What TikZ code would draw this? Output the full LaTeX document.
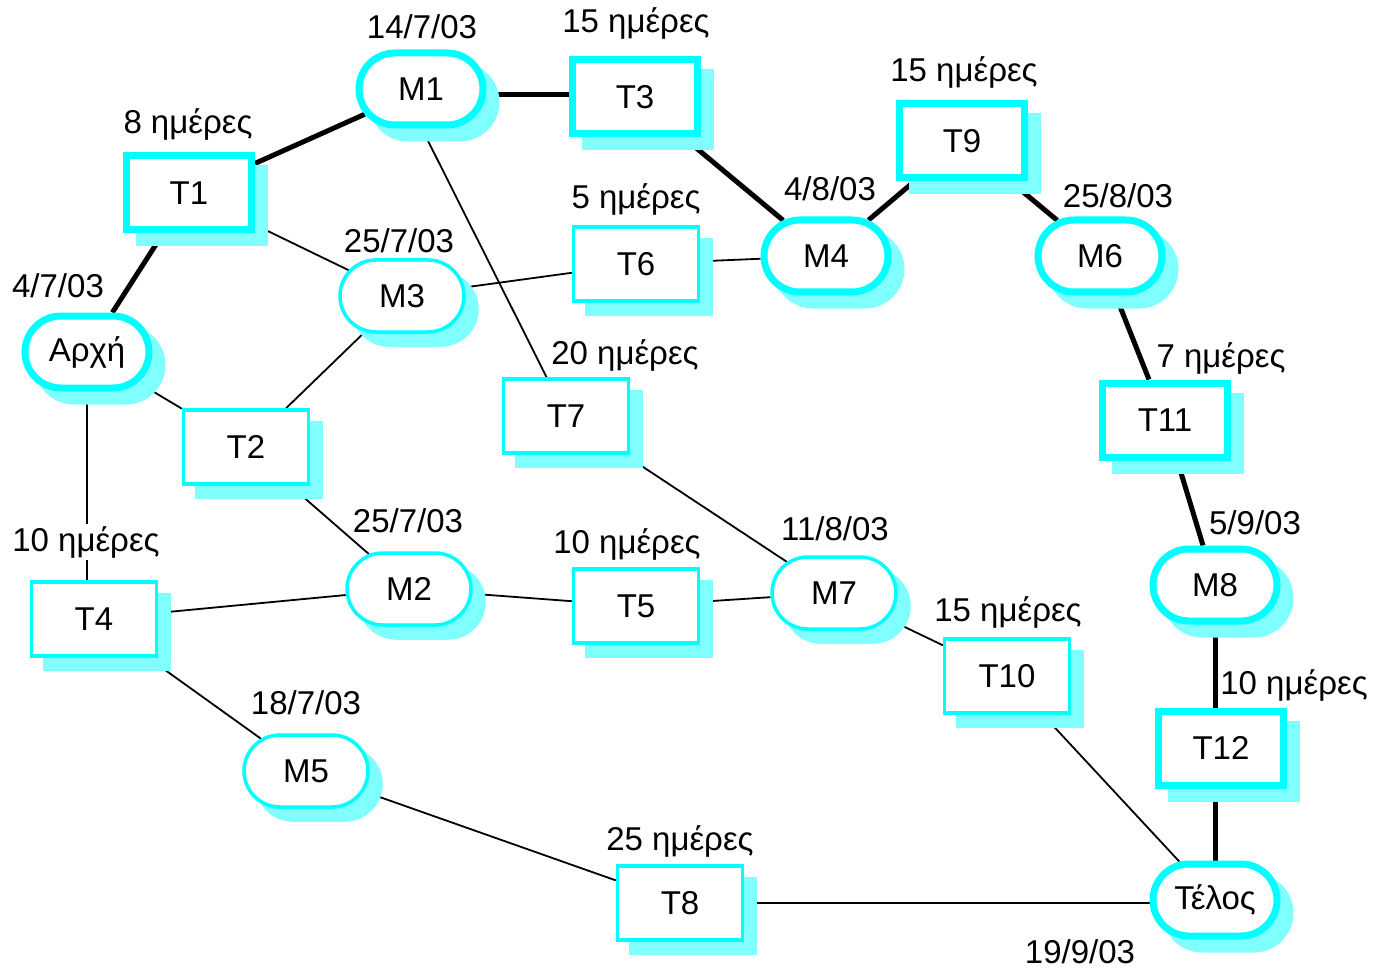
\documentclass[tikz,border=0pt]{standalone}
\usepackage{fontspec}
\setmainfont{Liberation Sans}
\usetikzlibrary{shapes.misc,shadows,backgrounds,calc}
\definecolor{cy}{RGB}{0,255,255}
\definecolor{shc}{RGB}{128,255,255}
\tikzset{
 base/.style={draw=cy, fill=white, font=\fontsize{33}{40}\selectfont, inner sep=0pt,
   drop shadow={opacity=1, fill=shc, draw=shc, shadow xshift=13pt, shadow yshift=-13pt}},
 milestone/.style={base, rounded rectangle, minimum width=124pt, minimum height=72pt},
 task/.style={base, rectangle, minimum width=125pt, minimum height=74pt},
 crit/.style={line width=7pt},
 norm/.style={line width=3.5pt},
 critedge/.style={line width=5pt},
 thinedge/.style={line width=1.8pt},
 lbl/.style={font=\fontsize{33}{40}\selectfont, anchor=base, inner sep=0pt},
}
\begin{document}
\begin{tikzpicture}[x=1pt,y=-1pt]
\useasboundingbox (0,0) rectangle (1373,968);
% milestones
\node[milestone,crit] (Arche) at (87,352) {Αρχή};
\node[milestone,crit] (M1) at (421,89) {M1};
\node[milestone,norm] (M3) at (402,296) {M3};
\node[milestone,crit] (M4) at (826,256) {M4};
\node[milestone,crit] (M6) at (1100,256) {M6};
\node[milestone,norm] (M2) at (409,589) {M2};
\node[milestone,norm] (M7) at (834,593) {M7};
\node[milestone,norm] (M5) at (306,771) {M5};
\node[milestone,crit] (M8) at (1215,585) {M8};
\node[milestone,crit] (Telos) at (1215,900) {Τέλος};
% tasks
\node[task,crit] (T1) at (189,193) {T1};
\node[task,norm] (T2) at (246,447) {T2};
\node[task,crit] (T3) at (635,97) {T3};
\node[task,norm] (T4) at (94,619) {T4};
\node[task,norm] (T5) at (636,606) {T5};
\node[task,norm] (T6) at (636,264) {T6};
\node[task,norm] (T7) at (566,416) {T7};
\node[task,norm] (T8) at (680,903) {T8};
\node[task,crit] (T9) at (962,141) {T9};
\node[task,norm] (T10) at (1007,676) {T10};
\node[task,crit] (T11) at (1165,420) {T11};
\node[task,crit] (T12) at (1221,748) {T12};
% labels
\node[lbl] (l1) at (422,39) {14/7/03};
\node[lbl] (l2) at (636,33) {15 ημέρες};
\node[lbl] (l3) at (188,134) {8 ημέρες};
\node[lbl] (l4) at (58,298) {4/7/03};
\node[lbl] (l5) at (399,253) {25/7/03};
\node[lbl] (l6) at (636,209) {5 ημέρες};
\node[lbl] (l7) at (830,201) {4/8/03};
\node[lbl] (l8) at (964,82) {15 ημέρες};
\node[lbl] (l9) at (1118,208) {25/8/03};
\node[lbl] (l10) at (625,364) {20 ημέρες};
\node[lbl] (l11) at (1221,367) {7 ημέρες};
\node[lbl,fill=white,inner sep=2pt] (l12) at (86,551) {10 ημέρες};
\node[lbl] (l13) at (408,532) {25/7/03};
\node[lbl] (l14) at (627,553) {10 ημέρες};
\node[lbl] (l15) at (835,540) {11/8/03};
\node[lbl] (l16) at (1255,534) {5/9/03};
\node[lbl] (l17) at (1008,621) {15 ημέρες};
\node[lbl] (l18) at (306,714) {18/7/03};
\node[lbl] (l19) at (1294,694) {10 ημέρες};
\node[lbl] (l20) at (680,850) {25 ημέρες};
\node[lbl] (l21) at (1080,963) {19/9/03};
% connectors
\begin{scope}[on background layer]
\draw[critedge] (Arche) -- (T1);
\draw[critedge] (T1) -- (M1);
\draw[critedge] (M1.east |- 0,95) -- (T3.west |- 0,95);
\draw[critedge] (T3) -- (M4);
\draw[critedge] (M4) -- (T9);
\draw[critedge] (T9) -- (M6);
\draw[critedge] (M6) -- (T11);
\draw[critedge] (T11) -- (M8);
\draw[critedge] (M8) -- (M8 |- T12);
\draw[critedge] (M8 |- T12) -- (Telos);
\draw[thinedge] (T1) -- (M3);
\draw[thinedge] ($(M1)+(-19,0)$) -- (T7);
\draw[thinedge] (M3) -- (T6);
\draw[thinedge] (T6) -- (M4);
\draw[thinedge] (Arche) -- (T2);
\draw[thinedge] (T2) -- (M3);
\draw[thinedge] (T2) -- (M2);
\draw[thinedge] (Arche) -- (Arche |- T4);
\draw[thinedge] (T4) -- (M2);
\draw[thinedge] (M2) -- (T5);
\draw[thinedge] (T5) -- (M7);
\draw[thinedge] (T7) -- (M7);
\draw[thinedge] (M7) -- (T10);
\draw[thinedge] (T10) -- (Telos);
\draw[thinedge] (T4) -- (M5);
\draw[thinedge] (M5) -- (T8);
\draw[thinedge] (T8) -- (T8 -| Telos);
\end{scope}
\end{tikzpicture}
\end{document}
